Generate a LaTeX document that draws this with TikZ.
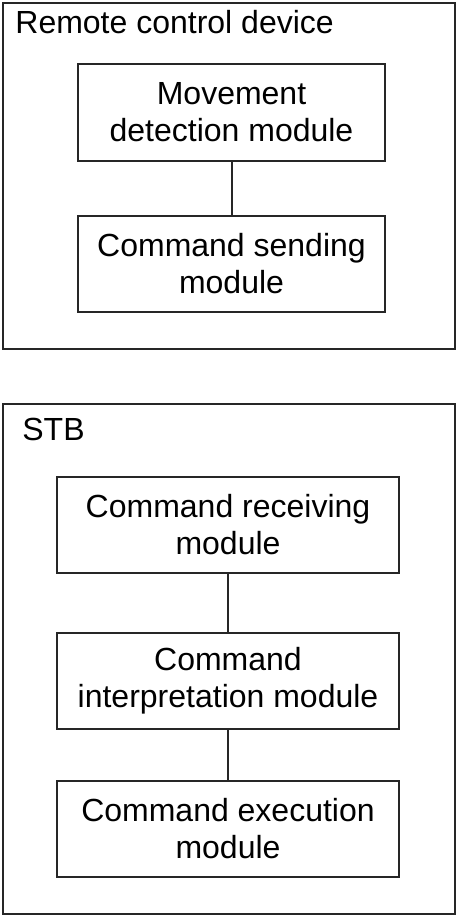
\documentclass[tikz,border=0pt]{standalone}
\usepackage{fontspec}
\setmainfont{Liberation Sans}
\usetikzlibrary{positioning}
\begin{document}
\begin{tikzpicture}[x=0.5pt, y=-0.5pt,
    frame/.style={draw=black!85, line width=1pt, rectangle, inner sep=0pt, minimum width=226pt},
    module/.style={draw=black!85, line width=1pt, rectangle, align=center, inner sep=0pt, minimum height=48pt, font=\fontsize{16}{18.5}\selectfont},
    upper/.style={module, minimum width=153.5pt},
    lower/.style={module, minimum width=171pt},
    title/.style={anchor=base west, inner sep=0pt, font=\fontsize{16}{18.5}\selectfont},
    link/.style={draw=black!85, line width=1pt}
]
\useasboundingbox (0,0) rectangle (456,915);

% Frames
\node[frame, minimum height=173pt] (remote) at (229,176) {};
\node[frame, minimum height=255pt] (stb) at (229,659) {};
\node[title] (remotetitle) at (15,34) {Remote control device};
\node[title] (stbtitle) at (22,440) {STB};

% Remote control modules
\node[upper] (detect) at (231.5,112.5) {Movement\\detection module};
\node[upper] (send) at (231.5,264) {Command sending\\module};

% STB modules
\node[lower] (receive) at (228,524.5) {Command receiving\\module};
\node[lower] (interpret) at (228,680.5) {Command\\interpretation module};
\node[lower] (execute) at (228,829) {Command execution\\module};

% Links
\draw[link] (detect) -- (send);
\draw[link] (receive) -- (interpret);
\draw[link] (interpret) -- (execute);

\end{tikzpicture}
\end{document}
